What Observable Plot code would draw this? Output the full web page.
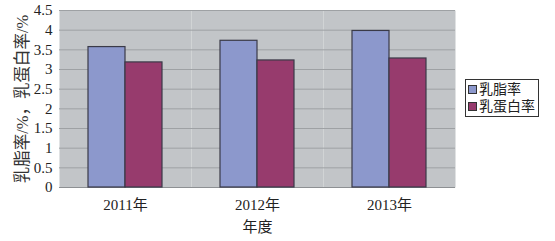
<!DOCTYPE html>
<html>
<head>
<meta charset="utf-8">
<script src="https://cdn.jsdelivr.net/npm/d3@7"></script>
<script src="https://cdn.jsdelivr.net/npm/@observablehq/plot@0.6"></script>
<style>
  body { margin: 0; background: #fff; }
  #wrap { position: relative; width: 555px; height: 241px; font-family: "Liberation Serif", "Noto Sans CJK SC", serif; }
  #legend { position: absolute; left: 465px; top: 79px; border: 1px solid #333; padding: 1px 3px 1px 2px; font-size: 14px; color: #222; line-height: 17px; background: #fff; }
  #legend .row { display: flex; align-items: center; white-space: nowrap; }
  #legend .sw { width: 7px; height: 7px; border: 1px solid #333; margin-right: 2px; }
</style>
</head>
<body>
<div id="wrap"></div>
<script>
const years = ["2011年", "2012年", "2013年"];
const series = ["乳脂率", "乳蛋白率"];
const fatValues = [3.57, 3.73, 3.98];
const proteinValues = [3.18, 3.23, 3.28];
const colors = ["#8c98cc", "#973b6d"];
const yTicks = [0, 0.5, 1, 1.5, 2, 2.5, 3, 3.5, 4, 4.5];
const yLabel = "乳脂率/%，乳蛋白率/%";
const xLabel = "年度";

const data = [];
years.forEach((y, i) => {
  data.push({year: y, series: series[0], value: fatValues[i]});
  data.push({year: y, series: series[1], value: proteinValues[i]});
});

const chart = Plot.plot({
  width: 555,
  height: 241,
  marginLeft: 59,
  marginTop: 10,
  marginBottom: 54,
  marginRight: 100,
  style: {fontFamily: '"Liberation Serif", "Noto Sans CJK SC", serif', fontSize: "15px", color: "#222", background: "#fff"},
  fx: {domain: years, padding: 0},
  x: {domain: series, paddingInner: 0, paddingOuter: 0.737, axis: null},
  y: {domain: [0, 4.5]},
  color: {domain: series, range: colors},
  marks: [
    Plot.frame({fill: "#c2c5c8", stroke: null}),
    Plot.gridY(yTicks, {stroke: "#9ea1a4", strokeOpacity: 1, strokeWidth: 1}),
    Plot.ruleY([0], {stroke: "#8d9093"}),
    Plot.barY(data, {fx: "year", x: "series", y: "value", fill: "series", stroke: "#3a3a48", strokeWidth: 1.2}),
    Plot.axisY(yTicks, {tickSize: 0, tickPadding: 7, tickFormat: d => String(d), label: null}),
    Plot.axisY([], {tickSize: 0, label: yLabel, labelAnchor: "center", labelOffset: 43, labelArrow: false, fontSize: 16.5, fill: "#333"}),
    Plot.axisFx({anchor: "bottom", tickSize: 0, tickPadding: 12, label: xLabel, labelAnchor: "center", labelOffset: 44, labelArrow: false})
  ]
});
document.getElementById("wrap").appendChild(chart);

const legend = document.createElement("div");
legend.id = "legend";
series.forEach((s, i) => {
  const row = document.createElement("div");
  row.className = "row";
  const sw = document.createElement("span");
  sw.className = "sw";
  sw.style.background = colors[i];
  const t = document.createElement("span");
  t.textContent = s;
  row.appendChild(sw);
  row.appendChild(t);
  legend.appendChild(row);
});
document.getElementById("wrap").appendChild(legend);
</script>
</body>
</html>
